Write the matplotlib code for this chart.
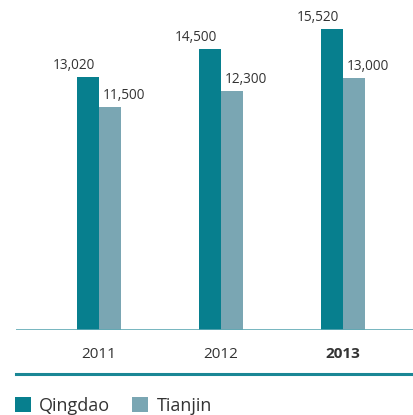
import matplotlib
matplotlib.use("Agg")
import matplotlib.pyplot as plt
from matplotlib.patches import Patch

years = ["2011", "2012", "2013"]
qingdao = [13020, 14500, 15520]
tianjin = [11500, 12300, 13000]
series_names = ["Qingdao", "Tianjin"]

c_q = "#077f8e"
c_t = "#7aa6b3"
txt = "#333333"

plt.rcParams['font.family'] = ['Open Sans', 'DejaVu Sans']

W, H = 414, 415
fig = plt.figure(figsize=(W/100, H/100), dpi=100)
# axes from x=16 to 414 px, baseline at y=330 px (from top), top at y=0
ax = fig.add_axes([16/W, (H-330)/H, (W-16)/W, 330/H])
ax.set_xlim(-0.680, 2.582)
ax.set_ylim(0, 17015)

bw = 0.184
xs = list(range(len(years)))
ax.bar([x - bw/2 for x in xs], qingdao, width=bw, color=c_q, zorder=2)
ax.bar([x + bw/2 for x in xs], tianjin, width=bw, color=c_t, zorder=2)

off = 0.033
pad = 8*17015/330
for x, v in zip(xs, qingdao):
    ax.text(x - off, v + pad, f"{v:,}", ha="right", va="baseline", fontsize=9.8, color=txt)
for x, v in zip(xs, tianjin):
    ax.text(x + off, v + pad, f"{v:,}", ha="left", va="baseline", fontsize=9.8, color=txt)

for s in ax.spines.values():
    s.set_visible(False)
ax.axhline(0, color="#5fa9b4", lw=1.2, zorder=3)
ax.set_xticks([])
ax.set_yticks([])

# year labels below
for x, y in zip(xs, years):
    ax.text(x, -28*17015/330, y, ha="center", va="baseline", fontsize=11, color=txt,
            fontweight="bold" if y == "2013" else "normal")

# bottom rule
fig.add_artist(plt.Line2D([16/W, 1], [(H-373.5)/H]*2, color="#1a8795", lw=2.2))

# legend
handles = [Patch(facecolor=c_q), Patch(facecolor=c_t)]
leg = fig.legend(handles, series_names, loc="upper left", bbox_to_anchor=(15/W, (H-397)/H),
                 ncol=2, frameon=False, fontsize=13, handlelength=0.9, handleheight=0.9,
                 handletextpad=0.45, columnspacing=1.2, borderpad=0, borderaxespad=0)
for t in leg.get_texts():
    t.set_color(txt)

fig.savefig("out.png", dpi=100)
